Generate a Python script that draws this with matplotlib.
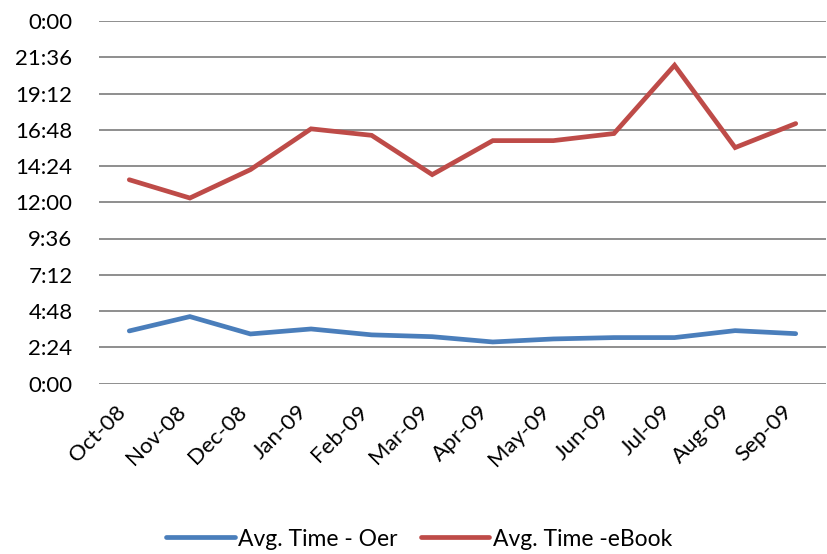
import matplotlib
matplotlib.use("Agg")
import matplotlib.pyplot as plt
from matplotlib.ticker import FixedLocator, FuncFormatter

months = ["Oct-08", "Nov-08", "Dec-08", "Jan-09", "Feb-09", "Mar-09",
          "Apr-09", "May-09", "Jun-09", "Jul-09", "Aug-09", "Sep-09"]
# values in hours
oer_hours = [3.48, 4.43, 3.28, 3.61, 3.22, 3.10, 2.75, 2.95, 3.04, 3.04, 3.50, 3.30]
ebook_hours = [13.49, 12.28, 14.16, 16.86, 16.43, 13.83, 16.08, 16.08, 16.55, 21.07, 15.62, 17.21]
series_names = ["Avg. Time - Oer", "Avg. Time -eBook"]
ytick_hours = [0, 2.4, 4.8, 7.2, 9.6, 12.0, 14.4, 16.8, 19.2, 21.6, 24.0]

plt.rcParams['font.family'] = ['Lato', 'DejaVu Sans']

fig = plt.figure(figsize=(8.27, 5.54), dpi=100)
W, H = 827, 554
left, right, top, bottom = 99, 826, 21, 383.5
ax = fig.add_axes([left / W, 1 - bottom / H, (right - left) / W, (bottom - top) / H])

x = list(range(len(months)))
l1, = ax.plot(x, oer_hours, color="#4A7EBB", lw=3.4, solid_capstyle="round",
              solid_joinstyle="miter", label=series_names[0], zorder=3)
l2, = ax.plot(x, ebook_hours, color="#BE4B48", lw=3.4, solid_capstyle="round",
              solid_joinstyle="miter", label=series_names[1], zorder=3)

ax.set_xlim(-0.5, len(months) - 0.5)
ax.set_ylim(0, 24)
ax.yaxis.set_major_locator(FixedLocator(ytick_hours))

def fmt(v, pos):
    total = int(round(v * 60)) % (24 * 60)
    return f"{total // 60}:{total % 60:02d}"

ax.yaxis.set_major_formatter(FuncFormatter(fmt))
ax.grid(axis="y", color="#868686", lw=1.3)
ax.set_axisbelow(True)
for s in ax.spines.values():
    s.set_visible(False)

ax.set_xticks(x)
ax.set_xticklabels(months, rotation=45, ha="right", va="top", fontsize=16)
ax.tick_params(axis="x", length=0, pad=13)
ax.tick_params(axis="y", length=0, pad=19, labelsize=16)

fig.legend(handles=[l1, l2], loc="center", bbox_to_anchor=(419 / W, 1 - 539 / H),
           ncol=2, frameon=False, fontsize=16.5, handlelength=3.0,
           columnspacing=1.0, handletextpad=0.15, borderpad=0.1)

fig.savefig("out.png", dpi=100)
